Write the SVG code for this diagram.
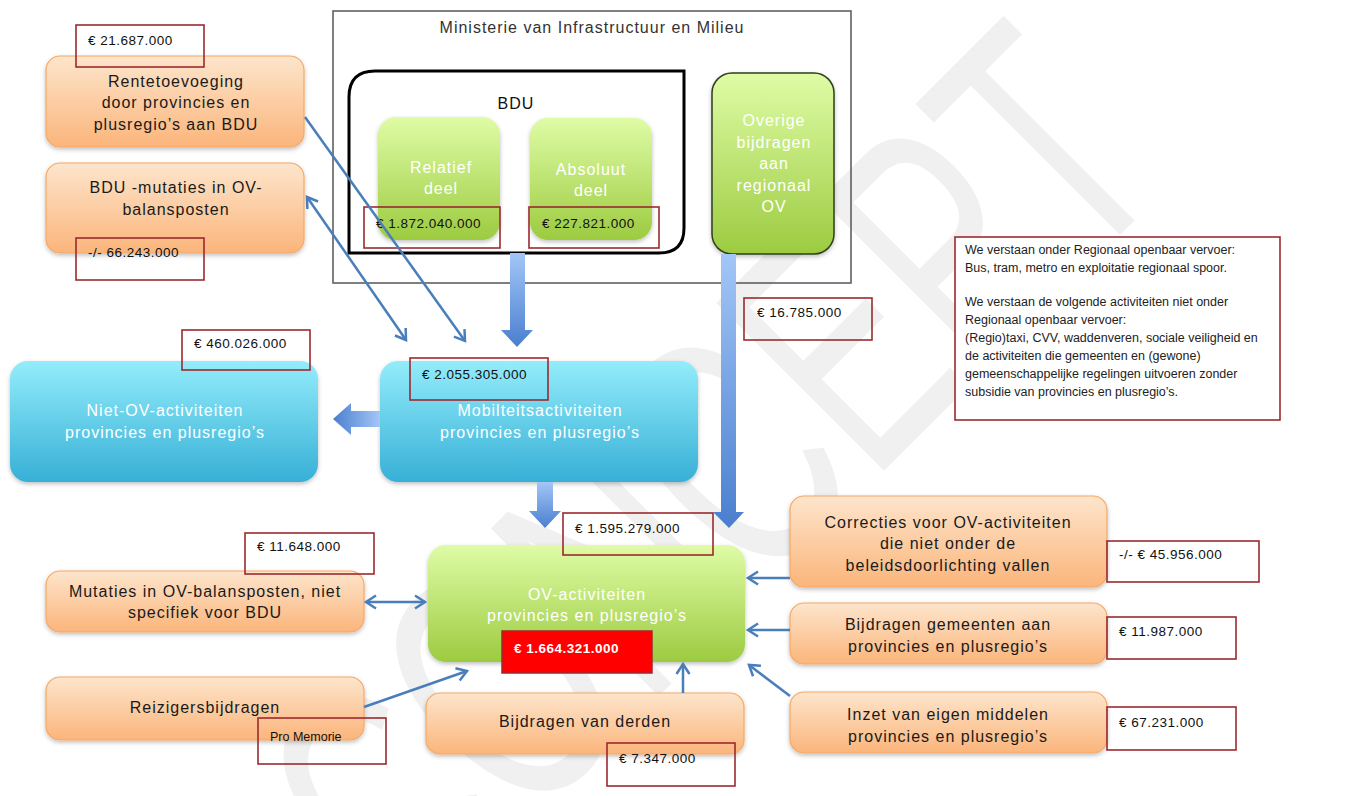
<svg xmlns="http://www.w3.org/2000/svg" width="1359" height="796" viewBox="0 0 1359 796">
<style>
text{font-family:"Liberation Sans",Arial,sans-serif}
.t{font-size:16px;letter-spacing:1px;fill:#1a1a1a;text-anchor:middle}
.w{font-size:16px;letter-spacing:1px;fill:#ffffff;text-anchor:middle}
.v{font-size:13.5px;letter-spacing:0.5px;fill:#111}
.lab{fill:none;stroke:#9c2a2e;stroke-width:1.6}
.org{fill:url(#gOrg);stroke:#f6a865;stroke-width:1.2;filter:url(#sh)}
.grn{fill:url(#gGrn);filter:url(#sh)}
.blu{fill:url(#gBlu);filter:url(#sh)}
.con{fill:none;stroke:#4a7ebb;stroke-width:2.5}
.note{font-size:12.5px;fill:#222}
</style>
<defs>
<linearGradient id="gOrg" x1="0" y1="0" x2="0" y2="1"><stop offset="0" stop-color="#fde5cc"/><stop offset="1" stop-color="#fbb57b"/></linearGradient>
<linearGradient id="gGrn" x1="0" y1="0" x2="0" y2="1"><stop offset="0" stop-color="#dffca6"/><stop offset="1" stop-color="#9ccb40"/></linearGradient>
<linearGradient id="gBlu" x1="0" y1="0" x2="0" y2="1"><stop offset="0" stop-color="#93ecfb"/><stop offset="1" stop-color="#37b0d6"/></linearGradient>
<linearGradient id="gArrV" x1="0" y1="0" x2="0" y2="1"><stop offset="0" stop-color="#a3c6f7"/><stop offset="1" stop-color="#4a7fcf"/></linearGradient>
<linearGradient id="gArrH" x1="1" y1="0" x2="0" y2="0"><stop offset="0" stop-color="#a3c6f7"/><stop offset="1" stop-color="#4a7fcf"/></linearGradient>
<filter id="sh" x="-10%" y="-10%" width="120%" height="130%"><feDropShadow dx="0" dy="2" stdDeviation="2" flood-color="#000" flood-opacity="0.25"/></filter>
<marker id="ah" markerUnits="userSpaceOnUse" markerWidth="16" markerHeight="16" refX="12" refY="8" orient="auto-start-reverse" viewBox="0 0 16 16"><path d="M2,1.5 L12,8 L2,14.5" fill="none" stroke="#4a7ebb" stroke-width="2.5"/></marker>
</defs>
<rect width="1359" height="796" fill="#ffffff"/>
<text transform="translate(1175,180) rotate(-45) scale(0.64,1)" font-size="345" text-anchor="end" fill="#f0f0f0">CONCEPT</text>

<g id="ministerie">
<rect x="333" y="11" width="518" height="272" fill="none" stroke="#555" stroke-width="1.5"/>
<text x="592" y="33" class="t" style="fill:#333">Ministerie van Infrastructuur en Milieu</text>
</g>
<g id="bdu">
<path d="M349,253 L349,97 Q349,71 375,71 L684,71 L684,228 Q684,253 659,253 Z" fill="none" stroke="#000" stroke-width="3"/>
<text x="516" y="109" class="t" style="fill:#111">BDU</text>
</g>
<g id="relatief">
<rect x="378" y="117" width="122" height="123" rx="18" class="grn"/>
<text x="441" y="173" class="w">Relatief</text>
<text x="441" y="194" class="w">deel</text>
<rect x="364" y="207" width="136" height="41" class="lab"/>
<text x="376" y="228" class="v">€ 1.872.040.000</text>
</g>
<g id="absoluut">
<rect x="530" y="118" width="122" height="122" rx="18" class="grn"/>
<text x="591" y="175" class="w">Absoluut</text>
<text x="591" y="196" class="w">deel</text>
<rect x="529" y="207" width="130" height="41" class="lab"/>
<text x="542" y="228" class="v">€ 227.821.000</text>
</g>
<g id="overige">
<rect x="712" y="73" width="122" height="181" rx="20" class="grn" stroke="#2f3f1c" stroke-width="1.5"/>
<text x="774" y="126" class="w">Overige</text>
<text x="774" y="148" class="w">bijdragen</text>
<text x="774" y="169" class="w">aan</text>
<text x="774" y="191" class="w">regionaal</text>
<text x="774" y="212" class="w">OV</text>
</g>
<g id="rente">
<rect x="46" y="56" width="258" height="91" rx="14" class="org"/>
<text x="176" y="87" class="t">Rentetoevoeging</text>
<text x="176" y="108" class="t">door provincies en</text>
<text x="176" y="130" class="t">plusregio’s aan BDU</text>
<rect x="76" y="25" width="128" height="42" class="lab"/>
<text x="88" y="45" class="v">€ 21.687.000</text>
</g>
<g id="bdumut">
<rect x="46" y="163" width="258" height="90" rx="14" class="org"/>
<text x="176" y="193" class="t">BDU -mutaties in OV-</text>
<text x="176" y="215" class="t">balansposten</text>
<rect x="76" y="238" width="128" height="42" class="lab"/>
<text x="88" y="257" class="v">-/- 66.243.000</text>
</g>
<g id="nietov">
<rect x="10" y="361" width="308" height="121" rx="18" class="blu"/>
<text x="165" y="416" class="w">Niet-OV-activiteiten</text>
<text x="165" y="438" class="w">provincies en plusregio’s</text>
<rect x="182" y="330" width="128" height="40" class="lab"/>
<text x="194" y="348" class="v">€ 460.026.000</text>
</g>
<g id="mobiliteit">
<rect x="380" y="361" width="318" height="121" rx="18" class="blu"/>
<text x="540" y="416" class="w">Mobilteitsactiviteiten</text>
<text x="540" y="438" class="w">provincies en plusregio’s</text>
<rect x="410" y="358" width="138" height="42" class="lab"/>
<text x="422" y="379" class="v">€ 2.055.305.000</text>
</g>
<g id="ovact">
<rect x="428" y="545" width="317" height="117" rx="18" class="grn"/>
<text x="587" y="600" class="w">OV-activiteiten</text>
<text x="587" y="621" class="w">provincies en plusregio’s</text>
<rect x="502" y="631" width="150" height="42" fill="#ff0000" stroke="#a0282c" stroke-width="1.5"/>
<text x="514" y="653" class="v" style="fill:#fff;font-weight:bold">€ 1.664.321.000</text>
<rect x="563" y="513" width="150" height="42" class="lab"/>
<text x="575" y="533" class="v">€ 1.595.279.000</text>
</g>
<g id="label16785">
<rect x="744" y="298" width="128" height="42" class="lab"/>
<text x="757" y="317" class="v">€ 16.785.000</text>
</g>
<g id="mutaties">
<rect x="46" y="571" width="318" height="61" rx="14" class="org"/>
<text x="205" y="597" class="t">Mutaties in OV-balansposten, niet</text>
<text x="205" y="618" class="t">specifiek voor BDU</text>
<rect x="245" y="533" width="129" height="41" class="lab"/>
<text x="257" y="551" class="v">€ 11.648.000</text>
</g>
<g id="reiziger">
<rect x="46" y="677" width="318" height="63" rx="14" class="org"/>
<text x="205" y="713" class="t">Reizigersbijdragen</text>
<rect x="258" y="718" width="128" height="46" class="lab"/>
<text x="270" y="741" class="v" style="font-size:12.5px;letter-spacing:0">Pro Memorie</text>
</g>
<g id="derden">
<rect x="426" y="693" width="318" height="61" rx="14" class="org"/>
<text x="585" y="727" class="t">Bijdragen van derden</text>
<rect x="607" y="743" width="128" height="43" class="lab"/>
<text x="619" y="763" class="v">€ 7.347.000</text>
</g>
<g id="correcties">
<rect x="790" y="496" width="317" height="91" rx="14" class="org"/>
<text x="948" y="528" class="t">Correcties voor  OV-activiteiten</text>
<text x="948" y="549" class="t">die niet onder de</text>
<text x="948" y="571" class="t">beleidsdoorlichting vallen</text>
<rect x="1107" y="541" width="152" height="41" class="lab"/>
<text x="1119" y="559" class="v">-/- € 45.956.000</text>
</g>
<g id="gemeenten">
<rect x="790" y="603" width="317" height="61" rx="14" class="org"/>
<text x="948" y="630" class="t">Bijdragen gemeenten aan</text>
<text x="948" y="652" class="t">provincies en plusregio’s</text>
<rect x="1107" y="617" width="129" height="42" class="lab"/>
<text x="1119" y="636" class="v">€ 11.987.000</text>
</g>
<g id="inzet">
<rect x="790" y="692" width="317" height="61" rx="14" class="org"/>
<text x="948" y="720" class="t">Inzet van eigen middelen</text>
<text x="948" y="742" class="t">provincies en plusregio’s</text>
<rect x="1107" y="707" width="129" height="43" class="lab"/>
<text x="1119" y="727" class="v">€ 67.231.000</text>
</g>
<g id="definitie">
<rect x="955" y="237" width="325" height="183" fill="#fff" stroke="#9c2a2e" stroke-width="1.6"/>
<text x="965" y="254" class="note">We verstaan onder Regionaal openbaar vervoer:</text>
<text x="965" y="272" class="note">Bus, tram, metro en exploitatie regionaal spoor.</text>
<text x="965" y="306" class="note">We verstaan de volgende activiteiten niet onder</text>
<text x="965" y="324" class="note">Regionaal openbaar vervoer:</text>
<text x="965" y="342" class="note">(Regio)taxi, CVV, waddenveren, sociale veiligheid en</text>
<text x="965" y="360" class="note">de activiteiten die gemeenten en  (gewone)</text>
<text x="965" y="378" class="note">gemeenschappelijke regelingen uitvoeren zonder</text>
<text x="965" y="396" class="note">subsidie van provincies en plusregio’s.</text>
</g>
<g id="connectors">
<polygon points="510,253 525,253 525,330 533,330 517,347 501,330 510,330" fill="url(#gArrV)"/>
<polygon points="721,254 736,254 736,512 744,512 729,528 713,512 721,512" fill="url(#gArrV)"/>
<polygon points="537,482 553,482 553,511 561,511 545,528 529,511 537,511" fill="url(#gArrV)"/>
<polygon points="380,411 351,411 351,403 333,419 351,435 351,427 380,427" fill="url(#gArrH)"/>
<line x1="305" y1="117" x2="465" y2="341" class="con" marker-end="url(#ah)"/>
<line x1="307" y1="197" x2="406" y2="340" class="con" marker-start="url(#ah)" marker-end="url(#ah)"/>
<line x1="366" y1="602" x2="425" y2="602" class="con" marker-start="url(#ah)" marker-end="url(#ah)"/>
<line x1="364" y1="707" x2="467" y2="671" class="con" marker-end="url(#ah)"/>
<line x1="683" y1="693" x2="683" y2="664" class="con" marker-end="url(#ah)"/>
<line x1="790" y1="578" x2="748" y2="578" class="con" marker-end="url(#ah)"/>
<line x1="790" y1="630" x2="748" y2="630" class="con" marker-end="url(#ah)"/>
<line x1="790" y1="696" x2="749" y2="665" class="con" marker-end="url(#ah)"/>
</g>
</svg>
